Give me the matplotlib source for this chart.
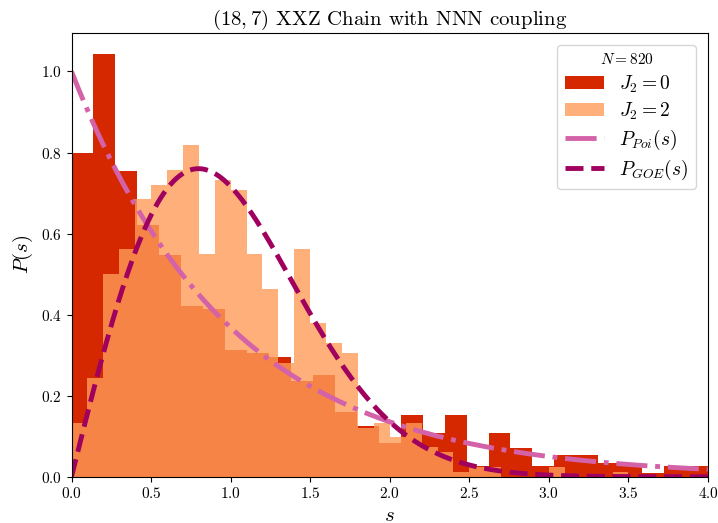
import numpy as np
import matplotlib
matplotlib.use("Agg")
import matplotlib.pyplot as plt

plt.rcParams['font.family'] = 'serif'
plt.rcParams['font.serif'] = ['cmr10']
plt.rcParams['mathtext.fontset'] = 'cm'
plt.rcParams['axes.formatter.use_mathtext'] = True

# level spacing histograms (normalised densities)
# J2 = 0 : 29 bins over [0, 4]
p_j0 = [0.800, 1.043, 0.755, 0.620, 0.547, 0.421, 0.414, 0.313, 0.306, 0.296,
        0.235, 0.252, 0.160, 0.125, 0.082, 0.153, 0.109, 0.153, 0.026, 0.108,
        0.070, 0.026, 0.054, 0.054, 0.035, 0.026, 0.010, 0.026, 0.026]
# J2 = 2 : 40 bins over [0, 4]
p_j2 = [0.133, 0.244, 0.500, 0.562, 0.685, 0.720, 0.757, 0.819, 0.550, 0.732,
        0.708, 0.550, 0.463, 0.281, 0.562, 0.380, 0.330, 0.305, 0.120, 0.133,
        0.099, 0.133, 0.074, 0.062, 0.012, 0.025, 0.023, 0.000, 0.000, 0.000,
        0.025, 0.000, 0.000, 0.000, 0.012, 0.000, 0.000, 0.000, 0.000, 0.000]
n_levels = 820
s_max = 4.0

edges_j0 = np.linspace(0, s_max, len(p_j0) + 1)
edges_j2 = np.linspace(0, s_max, len(p_j2) + 1)

s = np.linspace(0, s_max, 400)
p_poi = np.exp(-s)
p_goe = np.pi / 2 * s * np.exp(-np.pi * s**2 / 4)

fig = plt.figure(figsize=(7.18, 5.23), dpi=100)
ax = fig.add_axes([0.0996, 0.0885, 0.8865, 0.8485])

b0 = ax.bar(edges_j0[:-1], p_j0, width=np.diff(edges_j0), align='edge',
            color='#d62800', linewidth=0, label=r'$J_2=0$')
b2 = ax.bar(edges_j2[:-1], p_j2, width=np.diff(edges_j2), align='edge',
            color='#ff9c59', alpha=0.8, linewidth=0, label=r'$J_2=2$')
l_poi, = ax.plot(s, p_poi, '-.', color='#d462a8', lw=3.5, label=r'$P_{Poi}(s)$')
l_goe, = ax.plot(s, p_goe, '--', color='#a0005e', lw=3.5, label=r'$P_{GOE}(s)$')

ax.set_xlim(0, s_max)
ax.set_ylim(0, 1.095)
ax.set_xticks(np.arange(0, 4.01, 0.5))
ax.set_yticks(np.arange(0, 1.01, 0.2))
ax.tick_params(labelsize=11)
ax.set_xlabel(r'$s$', fontsize=15)
ax.set_ylabel(r'$P(s)$', fontsize=15)
ax.set_title(r'$(18,7)$ XXZ Chain with NNN coupling', fontsize=15)

ax.legend(handles=[b0, b2, l_poi, l_goe], title=r'$N=%d$' % n_levels,
          fontsize=14, title_fontsize=11, loc='upper right', handlelength=2.0,
          labelspacing=0.3, borderaxespad=0.6)

fig.savefig('out.png', dpi=100)
